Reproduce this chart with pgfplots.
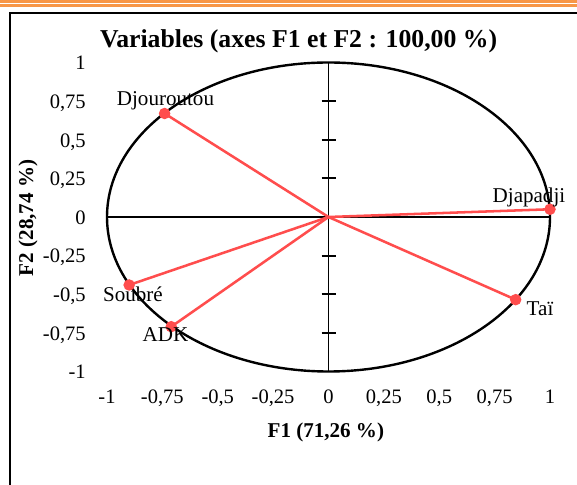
\documentclass[border=0pt]{standalone}
\usepackage{fontspec}
\setmainfont{Liberation Serif}
\usepackage{pgfplots}
\pgfplotsset{compat=1.18}
\definecolor{vecred}{RGB}{255,77,77}
\definecolor{bandorange}{RGB}{247,150,70}
\pgfplotsset{vec/.style={vecred, line width=1.9pt, mark=*, mark size=3.3pt,
  mark indices={2}, mark options={solid, fill=vecred, draw=vecred}}}
\begin{document}
\begin{tikzpicture}
\begin{axis}[
  x=166.125pt, y=115.875pt,
  xmin=-1, xmax=1, ymin=-1, ymax=1,
  axis x line*=bottom, axis y line*=left,
  axis line style={draw=none},
  major tick length=0pt,
  xtick={-1,-0.75,-0.5,-0.25,0,0.25,0.5,0.75,1},
  ytick={-1,-0.75,-0.5,-0.25,0,0.25,0.5,0.75,1},
  xticklabels={-1,{-0,75},{-0,5},{-0,25},0,{0,25},{0,5},{0,75},1},
  yticklabels={-1,{-0,75},{-0,5},{-0,25},0,{0,25},{0,5},{0,75},1},
  ticklabel style={font=\fontsize{15.4}{18}\selectfont, inner sep=0pt},
  xticklabel style={anchor=base, yshift=-24pt},
  yticklabel style={anchor=base east, xshift=-15.75pt, yshift=-5.5pt},
  title={Variables (axes F1 et F2 : 100,00 \%)},
  title style={font=\fontsize{19.3}{22}\selectfont\bfseries, anchor=base,
    at={(axis description cs:0.4325,1.02425)}},
  xlabel={F1 (71,26 \%)},
  xlabel style={font=\fontsize{15.8}{18}\selectfont\bfseries, anchor=base,
    at={(axis description cs:0.494,-0.2152)}},
  clip=false,
]
% page decoration and frame
\draw[bandorange, line width=2pt] (axis cs:-1.6,1.3961) -- (axis cs:1.2,1.3961);
\draw[bandorange, line width=2pt] (axis cs:-1.6,1.3702) -- (axis cs:1.2,1.3702);
\draw[line width=1.6pt] (axis cs:-1.438,-1.9) -- (axis cs:-1.438,1.3204) -- (axis cs:1.3,1.3204);

% unit circle and central axes
\draw[line width=1.8pt] (axis cs:0,0) ellipse [x radius=166.125pt, y radius=115.875pt];
\draw[line width=1.4pt] (axis cs:-1,0) -- (axis cs:1,0);
\draw[line width=1.4pt] (axis cs:0,-1) -- (axis cs:0,1);
\pgfplotsinvokeforeach{-1,-0.75,-0.5,-0.25,0.25,0.5,0.75,1}{
  \draw[line width=1.4pt] ([xshift=-5.25pt]axis cs:0,#1) -- ([xshift=5.25pt]axis cs:0,#1);
}

% variable vectors
\addplot[vec] coordinates {(0,0) (-0.74,0.67)};
\addplot[vec] coordinates {(0,0) (1.00,0.05)};
\addplot[vec] coordinates {(0,0) (0.845,-0.535)};
\addplot[vec] coordinates {(0,0) (-0.90,-0.44)};
\addplot[vec] coordinates {(0,0) (-0.71,-0.71)};

% label anchors
\coordinate (l1) at (axis cs:-0.736,0.720);
\coordinate (l2) at (axis cs:0.905,0.097);
\coordinate (l3) at (axis cs:0.955,-0.639);
\coordinate (l4) at (axis cs:-0.883,-0.550);
\coordinate (l5) at (axis cs:-0.736,-0.809);
\coordinate (yl) at (axis cs:-1.334,-0.006);

\coordinate (TL) at (axis cs:-1.4831,1.4045);
\coordinate (BR) at (axis cs:1.1219,-1.7282);
\end{axis}
\node[font=\fontsize{15.8}{18}\selectfont\bfseries, anchor=base, rotate=90] at (yl) {F2 (28,74 \%)};
\begin{scope}[font=\fontsize{15.8}{18}\selectfont]
\node[anchor=base] at (l1) {Djouroutou};
\node[anchor=base] at (l2) {Djapadji};
\node[anchor=base] at (l3) {Taï};
\node[anchor=base] at (l4) {Soubré};
\node[anchor=base] at (l5) {ADK};
\end{scope}
\pgfresetboundingbox
\useasboundingbox (TL) rectangle (BR);
\end{tikzpicture}
\end{document}
